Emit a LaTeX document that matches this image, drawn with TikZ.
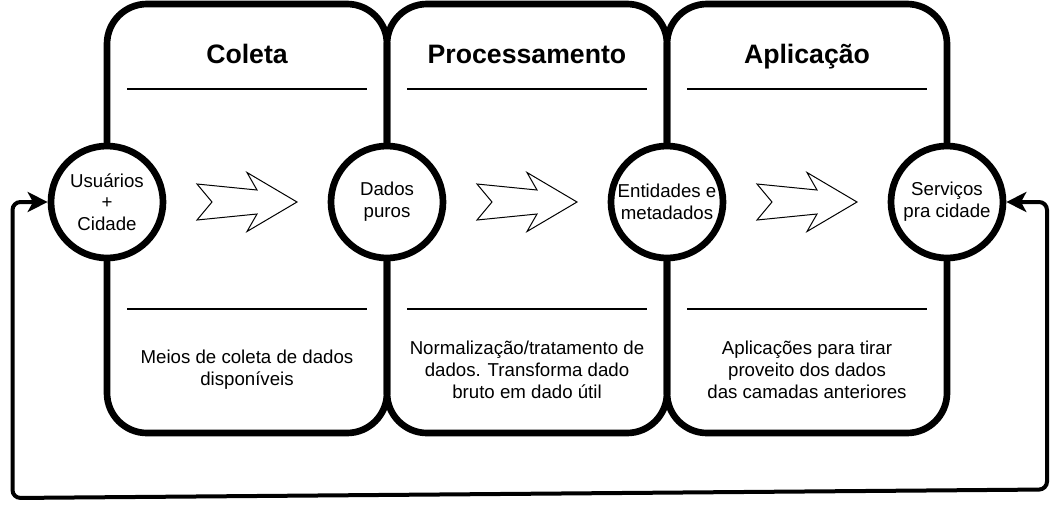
\documentclass[tikz,border=0pt]{standalone}
\usepackage{fontspec}
\setmainfont{Liberation Sans}
\usetikzlibrary{arrows.meta}

\tikzset{camada/.style = {line width=5pt, rounded corners=30pt},
         etapa/.style = {circle, draw, fill=white, line width=5pt,
                         minimum size=84pt, inner sep=0pt, align=center,
                         font=\fontsize{14}{16.3}\selectfont},
         titulo/.style = {anchor=base, font=\bfseries\fontsize{20}{24}\selectfont},
         texto/.style = {align=center, font=\fontsize{14}{16.3}\selectfont},
         regua/.style = {line width=1.1pt},
         seta/.style = {draw, fill=white, line width=0.75pt, line join=miter},
         retorno/.style = {line width=3pt, rounded corners=6pt, <->,
                           >={Stealth[length=15pt,width=15pt,inset=4pt]}}
        }

\begin{document}
\begin{tikzpicture}[x=0.75pt, y=-0.75pt]
\useasboundingbox (0,0) rectangle (1060,511);
\draw[camada] (107,4) rectangle (387,433);
\draw[camada] (387,4) rectangle (667,433);
\draw[camada] (667,4) rectangle (947,433);

\draw[regua] (127,89) -- (367,89);
\draw[regua] (407,89) -- (647,89);
\draw[regua] (687,89) -- (927,89);
\draw[regua] (127,309) -- (367,309);
\draw[regua] (407,309) -- (647,309);
\draw[regua] (687,309) -- (927,309);

\node[titulo] at (247,63) (tcol) {Coleta};
\node[titulo] at (527,63) (tproc) {Processamento};
\node[titulo] at (807,63) (taplic) {Aplicação};

\node[texto] at (247,370) (dcol) {Meios de coleta de dados\\disponíveis};
\node[texto] at (527,370) (dproc) {Normalização/tratamento de\\dados. Transforma dado\\bruto em dado útil};
\node[texto] at (807,370) (daplic) {Aplicações para tirar\\proveito dos dados\\das camadas anteriores};

\draw[seta] (197,184) -- (257,190) -- (247,172.5) -- (297,202) -- (247,231.5) -- (257,214) -- (197,220) -- (212,202) -- cycle;
\draw[seta] (477,184) -- (537,190) -- (527,172.5) -- (577,202) -- (527,231.5) -- (537,214) -- (477,220) -- (492,202) -- cycle;
\draw[seta] (757,184) -- (817,190) -- (807,172.5) -- (857,202) -- (807,231.5) -- (817,214) -- (757,220) -- (772,202) -- cycle;

\node[etapa] at (107,202) (usu) {Usuários\\+\\Cidade};
\node[etapa] at (387,202) (dados) {Dados\\puros};
\node[etapa] at (667,202) (ent) {Entidades e\\metadados};
\node[etapa] at (947,202) (serv) {Serviços\\pra cidade};

\draw[retorno] (serv.east) -- (1047,202) -- (1047,489.5) -- (12.5,498) -- (12.5,202) -- (usu.west);
\end{tikzpicture}
\end{document}
